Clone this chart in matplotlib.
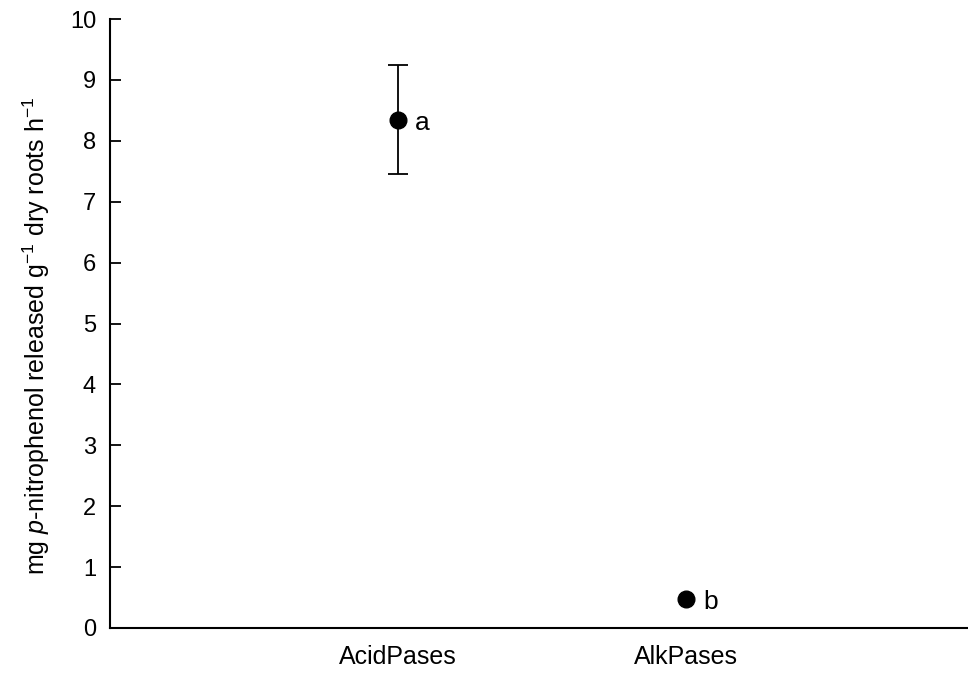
import matplotlib
matplotlib.use("Agg")
import matplotlib.pyplot as plt

# data
categories = ["AcidPases", "AlkPases"]
means = [8.35, 0.48]
errors = [0.9, None]
letters = ["a", "b"]

plt.rcParams['font.family'] = ['Liberation Sans', 'DejaVu Sans']
plt.rcParams['mathtext.fontset'] = 'custom'
plt.rcParams['mathtext.rm'] = 'Liberation Sans'
plt.rcParams['mathtext.it'] = 'Liberation Sans:italic'

fig = plt.figure(figsize=(9.68, 6.77), dpi=100)
ax = fig.add_axes([0.1136, 0.0724, 0.8864, 0.8995])

pos = [1, 2]
for x, y, e in zip(pos, means, errors):
    if e:
        ax.errorbar(x, y, yerr=e, fmt='none', ecolor='black',
                    elinewidth=1.3, capsize=7, capthick=1.3)
ax.plot(pos, means, 'o', color='black', ms=12)
for x, y, t in zip(pos, means, letters):
    ax.text(x + 0.06, y - 0.05, t, fontsize=19, va='center', ha='left')

ax.set_xlim(0, 2.98)
ax.set_ylim(0, 10)
ax.set_yticks(range(0, 11))
ax.set_xticks(pos)
ax.set_xticklabels(categories, fontsize=18)
ax.tick_params(axis='x', length=0, pad=12)
ax.tick_params(axis='y', direction='in', length=8, width=1.3, labelsize=17, pad=10)
ax.spines['top'].set_visible(False)
ax.spines['right'].set_visible(False)
ax.spines['left'].set_linewidth(1.5)
ax.spines['bottom'].set_linewidth(1.5)
ax.set_ylabel(r'mg $\it{p}$-nitrophenol released g$^{-1}$ dry roots h$^{-1}$',
              fontsize=18)
ax.yaxis.set_label_coords(-0.068, 0.48)

fig.savefig("out.png", dpi=100)
